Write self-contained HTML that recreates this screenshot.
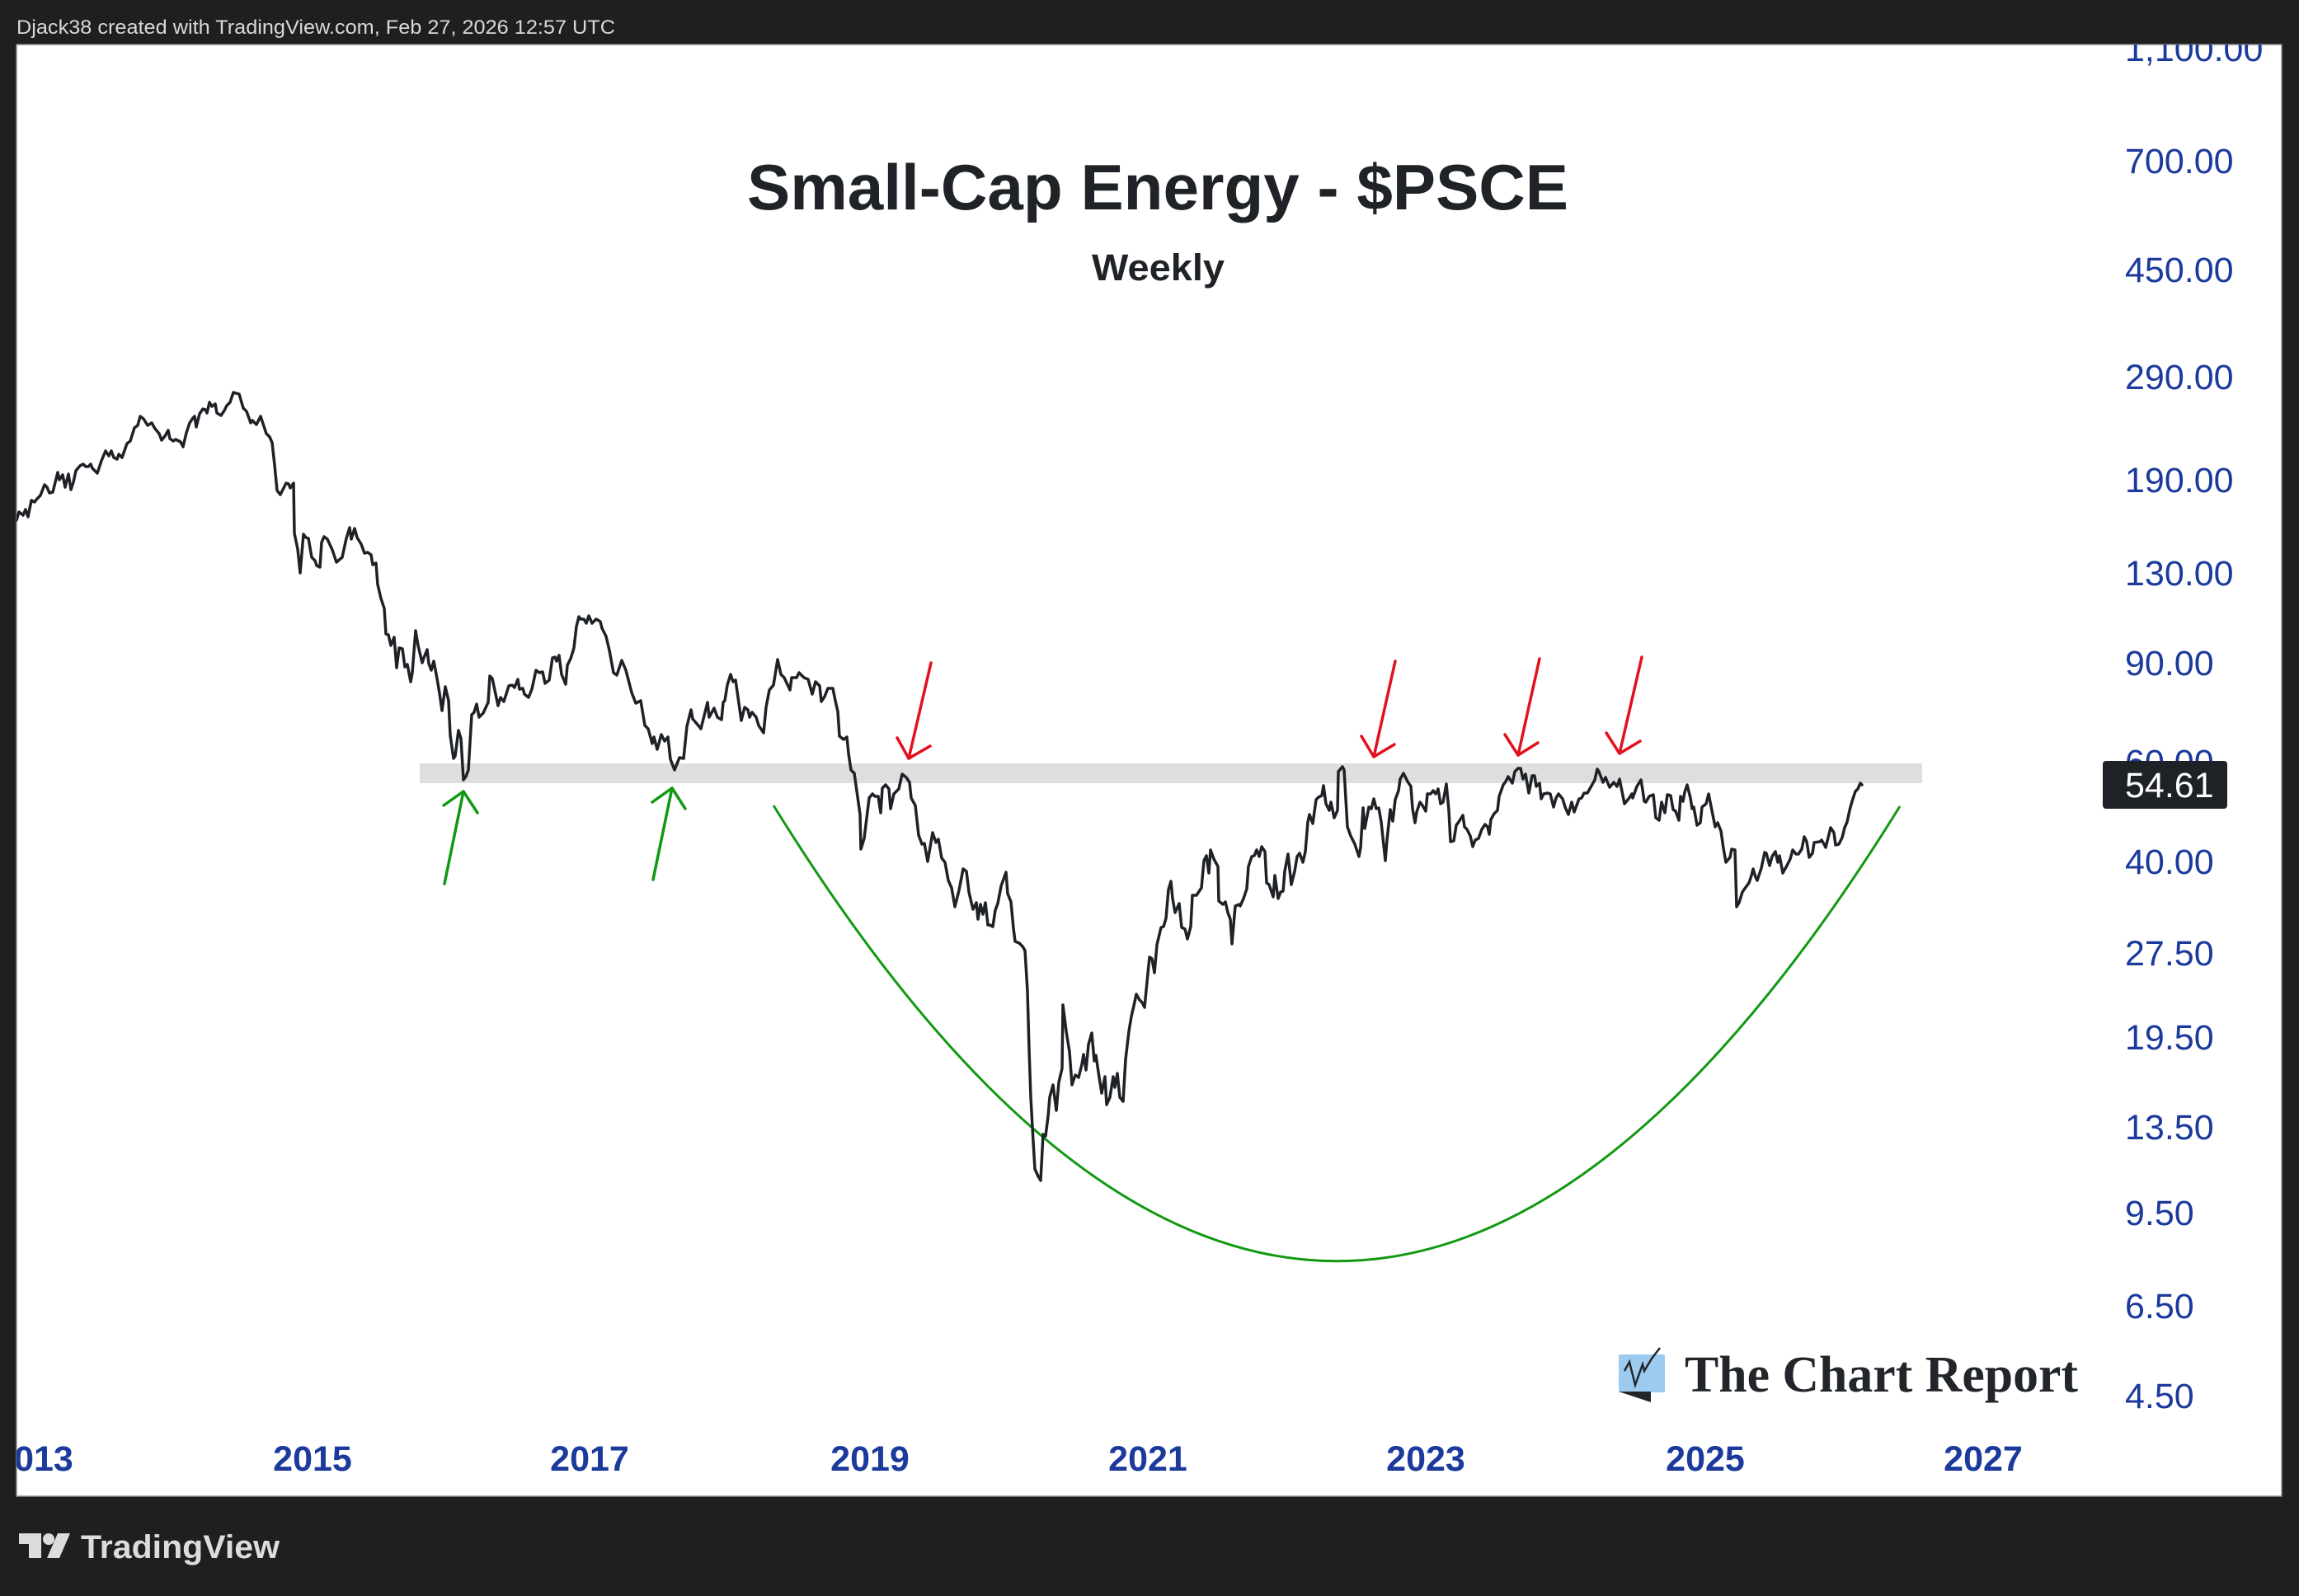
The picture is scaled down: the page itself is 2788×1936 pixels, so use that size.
<!DOCTYPE html>
<html>
<head>
<meta charset="utf-8">
<style>
html,body{margin:0;padding:0;background:#1f1f1f;}
body{width:2788px;height:1936px;overflow:hidden;position:relative;}
svg{position:absolute;left:0;top:0;}
</style>
</head>
<body>
<svg width="2788" height="1936" viewBox="0 0 2788 1936" xmlns="http://www.w3.org/2000/svg">
  <defs>
    <clipPath id="chart"><rect x="20" y="54" width="2747" height="1761"/></clipPath>
  </defs>
  <rect x="0" y="0" width="2788" height="1936" fill="#1f1f1f"/>
  <text x="20" y="41" font-family="Liberation Sans, sans-serif" font-size="24" fill="#d8d8d8" textLength="726" lengthAdjust="spacingAndGlyphs">Djack38 created with TradingView.com, Feb 27, 2026 12:57 UTC</text>

  <rect x="20" y="54" width="2747" height="1761" fill="#ffffff" stroke="#8a8a8a" stroke-width="1.5"/>

  <g clip-path="url(#chart)">
    <rect x="509" y="926" width="1822" height="24" fill="#dedede"/>

    <text x="906" y="254" font-family="Liberation Sans, sans-serif" font-weight="bold" font-size="78" fill="#1f2328" textLength="996" lengthAdjust="spacingAndGlyphs">Small-Cap Energy - $PSCE</text>
    <text x="1324" y="340" font-family="Liberation Sans, sans-serif" font-weight="bold" font-size="45" fill="#1f2328" textLength="161" lengthAdjust="spacingAndGlyphs">Weekly</text>

    <g font-family="Liberation Sans, sans-serif" font-size="43" fill="#1b3a9c">
      <text x="2577" y="74">1,100.00</text>
      <text x="2577" y="210">700.00</text>
      <text x="2577" y="342">450.00</text>
      <text x="2577" y="472">290.00</text>
      <text x="2577" y="597">190.00</text>
      <text x="2577" y="710">130.00</text>
      <text x="2577" y="819">90.00</text>
      <text x="2577" y="939">60.00</text>
      <text x="2577" y="1060">40.00</text>
      <text x="2577" y="1171">27.50</text>
      <text x="2577" y="1273">19.50</text>
      <text x="2577" y="1382">13.50</text>
      <text x="2577" y="1486">9.50</text>
      <text x="2577" y="1599">6.50</text>
      <text x="2577" y="1708">4.50</text>
    </g>
    <rect x="2550" y="923" width="151" height="58" rx="4" fill="#1e2226"/>
    <text x="2577" y="967" font-family="Liberation Sans, sans-serif" font-size="43" fill="#ffffff">54.61</text>

    <g font-family="Liberation Sans, sans-serif" font-weight="bold" font-size="43" fill="#1b3a9c" text-anchor="middle">
      <text x="41" y="1784">2013</text>
      <text x="379" y="1784">2015</text>
      <text x="715" y="1784">2017</text>
      <text x="1055" y="1784">2019</text>
      <text x="1392" y="1784">2021</text>
      <text x="1729" y="1784">2023</text>
      <text x="2068" y="1784">2025</text>
      <text x="2405" y="1784">2027</text>
    </g>

    <rect x="1963" y="1643" width="56" height="46" rx="2" fill="#9ccbef"/>
    <polygon points="1963,1688 2002,1688 2002,1701" fill="#22262a"/>
    <polyline points="1970,1663 1976,1652 1983,1680 1992,1655 1994,1663 2003,1648 2013,1635" fill="none" stroke="#22262a" stroke-width="2.5" stroke-linejoin="miter"/>
    <text x="2043" y="1688" font-family="Liberation Serif, serif" font-weight="bold" font-size="62" fill="#22262a" textLength="477" lengthAdjust="spacingAndGlyphs">The Chart Report</text>

    <path d="M938,977 Q1621,2082 2304,978" fill="none" stroke="#119911" stroke-width="3"/>

    <polyline fill="none" stroke="#1e2227" stroke-width="3.5" stroke-linejoin="round" stroke-linecap="round" points="
10,640 20,631 23,621 28,625 31,618 34,627 38,607 42,609 45,605 49,601 54,588 57,591 60,598 64,597 67,585 70,573 72,582 76,576 79,591 83,575 86,594 89,585 92,571 97,565 101,563 104,566 107,566 110,563 112,568 118,574 123,559 128,547 132,553 135,547 138,555 142,557 144,551 148,555 154,538 158,535 163,519 167,516 170,505 174,508 179,516 184,513 188,520 193,526 196,534 200,529 204,522 206,532 210,535 213,533 219,536 222,542 226,525 230,513 234,507 236,505 238,518 242,502 246,496 249,497 251,501 254,488 257,493 261,490 263,501 268,504 272,498 275,492 279,488 283,476 290,478 295,495 299,499 304,513 306,510 311,515 313,511 316,505 319,514 323,526 327,530 330,537 333,564 336,595 340,600 343,594 347,586 350,587 352,592 356,586 357,647 361,666 364,695 368,648 371,652 374,653 378,676 382,680 384,686 388,688 390,658 393,651 397,654 403,667 408,682 415,676 420,653 424,640 426,654 430,641 433,652 438,660 442,671 446,670 450,673 452,685 456,683 458,709 462,726 466,738 468,769 471,770 474,783 478,773 481,810 484,786 488,787 491,809 494,806 498,827 500,816 504,765 507,783 512,804 514,798 518,788 520,805 523,813 526,802 530,823 533,841 536,862 540,833 544,850 546,892 550,920 552,917 556,886 559,896 562,946 565,942 568,934 572,867 575,864 578,854 581,870 586,865 592,852 594,820 597,823 604,856 607,846 611,851 617,832 621,831 624,834 628,824 630,836 634,835 636,842 641,846 645,836 650,813 654,816 658,815 661,829 666,825 670,798 673,797 675,802 678,795 681,818 686,830 688,807 692,799 696,786 699,760
702,748 704,751 708,751 711,756 714,747 718,756 723,751 728,754 730,762 735,772 739,789 744,816 748,819 754,801 759,813 766,840 771,853 777,850 782,880 786,884 791,902 793,894 797,909 802,891 806,899 810,894 813,921 818,934 824,919 829,920 833,881 838,861 840,872 846,879 850,884 858,852 860,870 866,859 870,870 875,873 877,852 879,850 882,831 886,818 889,827 892,825 899,874 903,858 907,861 909,870 912,864 917,870 920,880 926,889 929,858 933,837 938,831 943,800 947,818 951,822 958,837 960,822 966,822 969,816 972,819 975,822 980,824 985,842 989,827 994,832 996,851 1000,845 1004,835 1010,835 1013,850 1016,863 1018,893 1023,897 1027,894 1029,914 1032,934 1036,938 1043,988 1044,1030 1048,1017 1054,968 1058,963 1061,966 1065,966 1068,986 1070,956 1074,952 1078,957 1080,981 1084,963 1090,957 1094,939 1099,943 1103,949 1105,968 1110,977 1114,1013 1118,1024 1121,1023 1125,1045 1131,1010 1135,1022 1138,1018 1142,1041 1146,1046 1150,1068 1154,1077 1158,1100 1163,1080 1168,1054 1172,1057 1175,1082 1178,1095 1180,1103 1184,1095 1186,1115 1189,1097 1192,1109 1195,1095 1198,1122
1200,1122 1204,1124 1207,1104 1210,1096 1214,1075 1220,1058 1222,1084 1226,1094 1229,1126 1231,1142 1236,1144 1240,1148 1243,1153 1246,1202 1248,1273 1250,1331 1253,1385 1255,1418 1259,1427 1262,1432 1265,1376 1268,1378 1271,1354 1273,1331 1277,1316 1281,1347 1284,1313 1288,1296 1289,1219 1293,1251 1297,1276 1300,1316 1304,1304 1308,1307 1312,1291 1314,1279 1317,1298 1320,1267 1324,1253 1327,1287 1329,1280 1333,1307 1336,1326 1340,1306 1342,1340 1346,1331 1350,1306 1352,1319 1355,1302 1358,1331 1362,1336 1365,1285 1369,1251 1372,1233 1375,1220 1378,1206 1382,1213 1385,1216 1388,1222 1391,1191 1394,1161 1397,1163 1400,1180 1403,1146 1408,1125 1411,1124 1414,1114 1417,1079 1420,1069 1422,1090 1425,1107 1430,1096 1433,1125 1437,1127 1440,1139 1444,1124 1446,1086 1451,1086 1457,1077 1460,1044 1463,1038 1466,1059 1468,1031 1472,1042 1477,1051 1478,1093 1483,1097 1486,1094 1489,1107 1492,1115 1494,1145 1498,1099 1503,1097 1504,1099 1508,1090 1512,1078 1514,1051 1518,1039 1521,1038 1524,1031 1527,1039 1530,1027 1534,1033 1536,1071 1539,1073 1544,1088 1546,1062 1550,1090 1553,1082 1556,1081 1558,1057 1562,1036 1566,1073 1570,1057 1573,1039 1576,1035 1580,1046 1583,1033 1586,997 1588,988 1592,999 1596,970 1599,967 1603,965 1605,953 1608,975 1612,983 1614,973 1618,992 1622,983 1623,936 1628,930 1630,934 1634,1003 1638,1014 1643,1024 1648,1039 1650,1028 1653,980 1655,1005 1660,979 1663,981 1666,969 1669,981 1672,980 1675,997 1680,1044 1682,1019 1686,982 1689,996 1692,970 1696,959 1698,945 1702,938 1707,948 1711,954 1713,981 1716,998 1718,985 1722,973 1725,977 1729,984 1731,963 1735,963 1738,959 1741,963 1744,957 1747,975 1750,973 1754,951 1757,983 1759,1021 1763,1020 1766,1001 1769,997 1774,989 1776,1003 1779,1006 1783,1014 1786,1027 1789,1019 1793,1017 1797,1006 1801,1000 1804,1003 1806,1012 1808,994 1812,987 1816,983 1818,966 1823,952 1826,948 1829,942 1834,950 1837,936 1841,932 1844,932 1847,945
1850,939 1854,962 1858,941 1861,941 1863,954 1867,950 1869,969 1872,963 1877,962 1880,963 1884,979 1887,968 1890,963 1895,969 1898,979 1902,988 1906,973 1909,985 1915,969 1918,968 1921,962 1925,962 1929,955 1934,946 1937,933 1939,936 1944,949 1947,943 1952,955 1957,949 1961,954 1964,945 1967,960 1970,975 1975,969 1979,963 1980,968 1985,954 1990,946 1992,958 1994,972 1996,973 2000,966 2005,964 2008,992 2012,995 2015,973 2019,986 2022,964 2026,965 2029,982 2032,984 2036,995 2038,966 2041,972 2043,961 2046,952 2050,968 2052,981 2054,979 2058,1001 2062,998 2064,979 2069,975 2072,963 2076,983 2080,1003 2083,998 2087,1008 2090,1029 2093,1046 2098,1040 2100,1030 2104,1031 2106,1100 2109,1095 2113,1082 2118,1075 2121,1071 2124,1062 2126,1054 2129,1064 2131,1068 2136,1053 2140,1034 2142,1035 2146,1050 2149,1039 2153,1033 2156,1046 2158,1038 2162,1059 2167,1050 2171,1042 2174,1031 2178,1036 2181,1036 2185,1030 2188,1015 2191,1021 2194,1040 2198,1035 2200,1022 2207,1021 2209,1019 2212,1024 2214,1028 2220,1004 2224,1010 2226,1025 2230,1024 2234,1016 2237,1004 2240,997 2243,983 2246,972 2250,960 2253,957 2256,950 2258,952"/>

    <g fill="none" stroke="#119911" stroke-width="3.5" stroke-linecap="round" stroke-linejoin="round">
      <line x1="539" y1="1072" x2="562" y2="960"/>
      <polyline points="538,977 562,960 579,986"/>
      <line x1="792" y1="1067" x2="815" y2="956"/>
      <polyline points="791,973 815,956 831,981"/>
    </g>
    <g fill="none" stroke="#e3101e" stroke-width="3.5" stroke-linecap="round" stroke-linejoin="round">
      <line x1="1129" y1="804" x2="1102" y2="920"/>
      <polyline points="1088,895 1102,920 1128,905"/>
      <line x1="1692" y1="802" x2="1666" y2="918"/>
      <polyline points="1651,893 1666,918 1691,903"/>
      <line x1="1867" y1="799" x2="1841" y2="916"/>
      <polyline points="1825,891 1841,916 1865,901"/>
      <line x1="1991" y1="797" x2="1964" y2="914"/>
      <polyline points="1948,889 1964,914 1989,899"/>
    </g>
  </g>

  <g fill="#dcdcdc">
    <rect x="23" y="1860" width="27" height="13"/>
    <rect x="35" y="1860" width="15" height="30"/>
    <circle cx="59" cy="1867" r="7"/>
    <polygon points="70,1860 85,1860 72,1890 57,1890"/>
  </g>
  <text x="98" y="1890" font-family="Liberation Sans, sans-serif" font-weight="bold" font-size="40" fill="#dcdcdc" textLength="241" lengthAdjust="spacingAndGlyphs">TradingView</text>
</svg>
</body>
</html>
